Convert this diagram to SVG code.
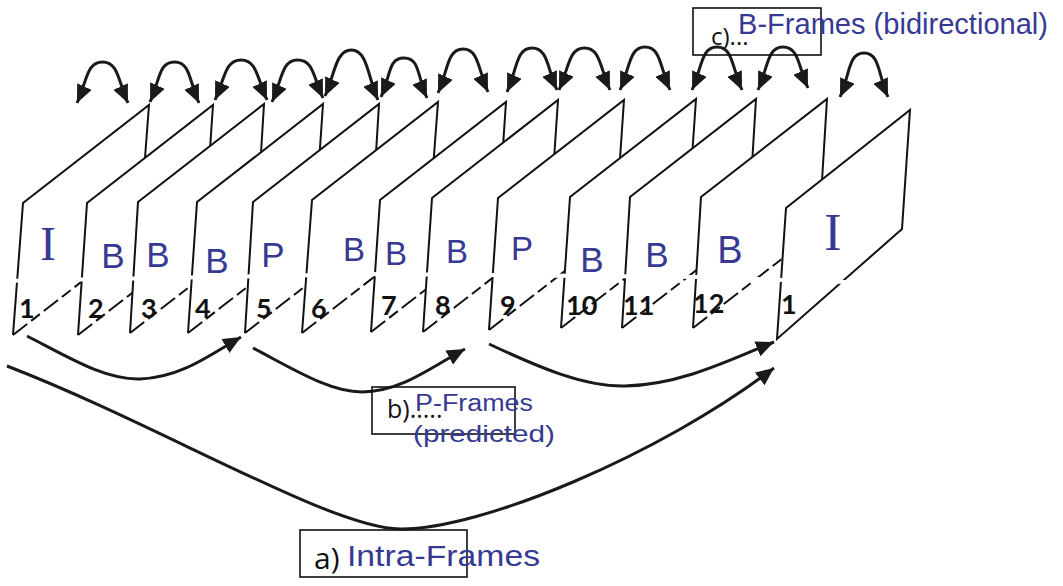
<svg xmlns="http://www.w3.org/2000/svg" width="1063" height="586" viewBox="0 0 1063 586">
<style>
.fr{fill:#fff;stroke:none}
.ed{fill:none;stroke:#111;stroke-width:2;stroke-linejoin:miter}
.bt{fill:none;stroke:#111;stroke-width:2;stroke-dasharray:18 5 11 5}
.hw{font-family:"Liberation Sans","DejaVu Sans",sans-serif;fill:#363a92}
.hs{font-family:"Liberation Serif",serif;fill:#363a92}
.num{font-family:Lato,"Open Sans",sans-serif;font-weight:bold;font-size:27px;fill:#111}
.pr{font-family:"Open Sans","Liberation Sans",sans-serif;fill:#111}
.arc{fill:none;stroke:#1a1a1a;stroke-width:3;marker-start:url(#ah);marker-end:url(#ah)}
.arr{fill:none;stroke:#1a1a1a;stroke-width:3;marker-end:url(#ah)}
.box{fill:none;stroke:#111;stroke-width:1.6}
</style>
<defs>
<marker id="ah" viewBox="0 0 18 16" refX="18" refY="8" markerWidth="18" markerHeight="16" markerUnits="userSpaceOnUse" orient="auto-start-reverse">
<path d="M0,0 L18,8 L0,16 z" fill="#1a1a1a"/>
</marker>
</defs>
<rect width="1063" height="586" fill="#fff"/>

<g id="frame-1">
<polygon class="fr" points="13,335 23,203 149,105 139,237"/>
<polyline class="ed" points="13,335 23,203 149,105 139,237"/>
<line class="bt" x1="13" y1="335" x2="139" y2="237"/>
<text class="hs" x="48" y="260" font-size="48" text-anchor="middle">I</text>
<text class="num" x="19" y="318">1</text>
</g>
<g id="frame-2">
<polygon class="fr" points="78,335 87,203 213,105 204,237"/>
<polyline class="ed" points="78,335 87,203 213,105 204,237"/>
<line class="bt" x1="78" y1="335" x2="204" y2="237"/>
<text class="hw" x="113" y="268" font-size="35" text-anchor="middle">B</text>
<text class="num" x="88" y="318">2</text>
</g>
<g id="frame-3">
<polygon class="fr" points="130,333 138,202 264,104 256,235"/>
<polyline class="ed" points="130,333 138,202 264,104 256,235"/>
<line class="bt" x1="130" y1="333" x2="256" y2="235"/>
<text class="hw" x="158" y="267" font-size="35" text-anchor="middle">B</text>
<text class="num" x="141" y="318">3</text>
</g>
<g id="frame-4">
<polygon class="fr" points="188,333 197,202 323,104 314,235"/>
<polyline class="ed" points="188,333 197,202 323,104 314,235"/>
<line class="bt" x1="188" y1="333" x2="314" y2="235"/>
<text class="hw" x="217" y="273" font-size="35" text-anchor="middle">B</text>
<text class="num" x="195" y="318">4</text>
</g>
<g id="frame-5">
<polygon class="fr" points="245,333 253,202 379,104 371,235"/>
<polyline class="ed" points="245,333 253,202 379,104 371,235"/>
<line class="bt" x1="245" y1="333" x2="371" y2="235"/>
<text class="hw" x="273" y="267" font-size="35" text-anchor="middle">P</text>
<text class="num" x="256" y="318">5</text>
</g>
<g id="frame-6">
<polygon class="fr" points="302,333 312,200 438,102 428,235"/>
<polyline class="ed" points="302,333 312,200 438,102 428,235"/>
<line class="bt" x1="302" y1="333" x2="428" y2="235"/>
<text class="hw" x="354" y="261" font-size="33" text-anchor="middle">B</text>
<text class="num" x="311" y="318">6</text>
</g>
<g id="frame-7">
<polygon class="fr" points="371,332 380,200 506,102 497,234"/>
<polyline class="ed" points="371,332 380,200 506,102 497,234"/>
<line class="bt" x1="371" y1="332" x2="497" y2="234"/>
<text class="hw" x="396" y="265" font-size="33" text-anchor="middle">B</text>
<text class="num" x="381" y="315">7</text>
</g>
<g id="frame-8">
<polygon class="fr" points="423,332 432,198 558,100 549,234"/>
<polyline class="ed" points="423,332 432,198 558,100 549,234"/>
<line class="bt" x1="423" y1="332" x2="549" y2="234"/>
<text class="hw" x="457" y="263" font-size="33" text-anchor="middle">B</text>
<text class="num" x="435" y="315">8</text>
</g>
<g id="frame-9">
<polygon class="fr" points="489,330 498,198 624,100 615,232"/>
<polyline class="ed" points="489,330 498,198 624,100 615,232"/>
<line class="bt" x1="489" y1="330" x2="615" y2="232"/>
<text class="hw" x="522" y="260" font-size="33" text-anchor="middle">P</text>
<text class="num" x="500" y="315">9</text>
</g>
<g id="frame-10">
<polygon class="fr" points="561,328 570,197 696,99 687,230"/>
<polyline class="ed" points="561,328 570,197 696,99 687,230"/>
<line class="bt" x1="561" y1="328" x2="687" y2="230"/>
<text class="hw" x="592" y="272" font-size="35" text-anchor="middle">B</text>
<text class="num" x="566" y="315">10</text>
</g>
<g id="frame-11">
<polygon class="fr" points="622,328 630,197 756,99 748,230"/>
<polyline class="ed" points="622,328 630,197 756,99 748,230"/>
<line class="bt" x1="622" y1="328" x2="748" y2="230"/>
<text class="hw" x="657" y="267" font-size="35" text-anchor="middle">B</text>
<text class="num" x="623" y="315">11</text>
</g>
<g id="frame-12">
<polygon class="fr" points="693,328 701,197 827,99 819,230"/>
<polyline class="ed" points="693,328 701,197 827,99 819,230"/>
<line class="bt" x1="693" y1="328" x2="819" y2="230"/>
<text class="hw" x="730" y="263" font-size="38" text-anchor="middle">B</text>
<text class="num" x="693" y="313">12</text>
</g>
<g id="frame-13">
<polygon class="fr" points="777,339 786,208 910,110 902,229"/>
<polygon class="ed" points="777,339 786,208 910,110 902,229"/>
<text class="hs" x="833" y="250" font-size="52" text-anchor="middle">I</text>
<text class="num" x="781" y="314">1</text>
</g>

<polyline points="0,281 380,274 700,277 845,282" fill="none" stroke="#fff" stroke-width="4"/>

<g id="connectors">
<path class="arc" d="M77,103 C87,81 86.5,62 102.5,62 C118.5,62 118,81 128,103"/>
<path class="arc" d="M150,102 C160,80 158.5,62 174.5,62 C190.5,62 189,81 199,103"/>
<path class="arc" d="M215,100 C225,78 225,60 241,60 C257,60 257,78 267,100"/>
<path class="arc" d="M272,102 C282,80 281.5,60 297.5,60 C313.5,60 313,76 323,98"/>
<path class="arc" d="M325,96 C335,74 335.5,50 351.5,50 C367.5,50 368,78 378,100"/>
<path class="arc" d="M381,97 C391,75 388,58 404,58 C420,58 417,76 427,98"/>
<path class="arc" d="M438,93 C448,71 447,49 463,49 C479,49 478,70 488,92"/>
<path class="arc" d="M507,92 C517,70 516,48 532,48 C548,48 547,68 557,90"/>
<path class="arc" d="M559,90 C569,68 568.5,48 584.5,48 C600.5,48 600,68 610,90"/>
<path class="arc" d="M620,90 C630,68 629,47 645,47 C661,47 660,68 670,90"/>
<path class="arc" d="M692,90 C702,68 701,47 717,47 C733,47 732,68 742,90"/>
<path class="arc" d="M758,90 C768,68 767,47 783,47 C799,47 798,66 808,88"/>
<path class="arc" d="M840,97 C850,75 848,53 864,53 C880,53 878,75 888,97"/>

<path class="arr" d="M27,336 C70,358 105,380 140,379 C180,378 210,355 241,337"/>
<path class="arr" d="M253,348 C295,370 330,392 362,392 C400,392 430,368 465,349"/>
<path class="arr" d="M489,344 C540,368 585,387 625,386 C680,385 730,360 774,342"/>
<path class="arr" d="M7,366 C160,425 330,528 400,529 C480,530 660,455 774,368"/>
</g>

<g id="label-c">
<rect class="box" x="693" y="8" width="128" height="47"/>
<text class="pr" x="711" y="45" font-size="24">c)...</text>
<text class="hw" x="738" y="34" font-size="30" textLength="310" lengthAdjust="spacingAndGlyphs">B-Frames (bidirectional)</text>
</g>
<g id="label-b">
<rect class="box" x="372" y="387" width="143" height="47"/>
<text class="pr" x="387" y="418" font-size="25">b).....</text>
<text class="hw" x="415" y="411" font-size="23" textLength="118" lengthAdjust="spacingAndGlyphs">P-Frames</text>
<text class="hw" x="413" y="442" font-size="24" textLength="142" lengthAdjust="spacingAndGlyphs">(predicted)</text>
</g>
<g id="label-a">
<rect class="box" x="300" y="530" width="167" height="47"/>
<text class="pr" x="314" y="569" font-size="30">a)</text>
<text class="hw" x="347" y="566" font-size="30" textLength="193" lengthAdjust="spacingAndGlyphs">Intra-Frames</text>
</g>
</svg>
